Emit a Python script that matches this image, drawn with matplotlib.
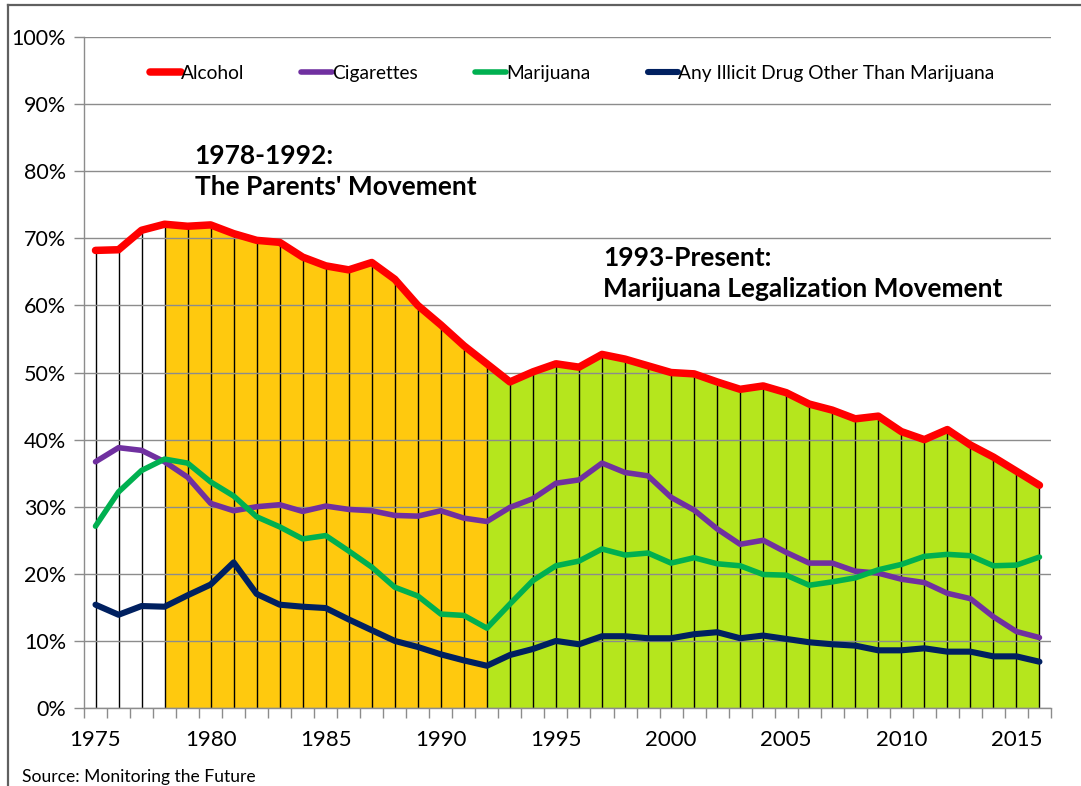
import numpy as np
import matplotlib
matplotlib.use("Agg")
import matplotlib.pyplot as plt
from matplotlib.lines import Line2D
from matplotlib.ticker import FixedLocator, FuncFormatter

plt.rcParams['font.family'] = ['Lato', 'DejaVu Sans']

# data (12th grade, past 30 days)
years = list(range(1975, 2017))
alcohol = [68.2, 68.3, 71.2, 72.1, 71.8, 72.0, 70.7, 69.7, 69.4, 67.2,
           65.9, 65.3, 66.4, 63.9, 60.0, 57.1, 54.0, 51.3, 48.6, 50.1,
           51.3, 50.8, 52.7, 52.0, 51.0, 50.0, 49.8, 48.6, 47.5, 48.0,
           47.0, 45.3, 44.4, 43.1, 43.5, 41.2, 40.0, 41.5, 39.2, 37.4,
           35.3, 33.2]
cigarettes = [36.7, 38.8, 38.4, 36.7, 34.4, 30.5, 29.4, 30.0, 30.3, 29.3,
              30.1, 29.6, 29.4, 28.7, 28.6, 29.4, 28.3, 27.8, 29.9, 31.2,
              33.5, 34.0, 36.5, 35.1, 34.6, 31.4, 29.5, 26.7, 24.4, 25.0,
              23.2, 21.6, 21.6, 20.4, 20.1, 19.2, 18.7, 17.1, 16.3, 13.6,
              11.4, 10.5]
marijuana = [27.1, 32.2, 35.4, 37.1, 36.5, 33.7, 31.6, 28.5, 27.0, 25.2,
             25.7, 23.4, 21.0, 18.0, 16.7, 14.0, 13.8, 11.9, 15.5, 19.0,
             21.2, 21.9, 23.7, 22.8, 23.1, 21.6, 22.4, 21.5, 21.2, 19.9,
             19.8, 18.3, 18.8, 19.4, 20.6, 21.4, 22.6, 22.9, 22.7, 21.2,
             21.3, 22.5]
other_drugs = [15.4, 13.9, 15.2, 15.1, 16.8, 18.4, 21.7, 17.0, 15.4, 15.1,
               14.9, 13.2, 11.6, 10.0, 9.1, 8.0, 7.1, 6.3, 7.9, 8.8,
               10.0, 9.5, 10.7, 10.7, 10.4, 10.4, 11.0, 11.3, 10.4, 10.8,
               10.3, 9.8, 9.5, 9.3, 8.6, 8.6, 8.9, 8.4, 8.4, 7.7,
               7.7, 6.9]

parents_era = (1978, 1992)
legal_era = (1992, 2016)

x = np.array(years)
alc = np.array(alcohol)

fig = plt.figure(figsize=(10.81, 7.86), dpi=100)
ax = fig.add_axes([0.0777, 0.0992, 0.8945, 0.8537])

# shaded movements under the alcohol line
m1 = (x >= parents_era[0]) & (x <= parents_era[1])
ax.fill_between(x[m1], 0, alc[m1], color='#FFC90E', lw=0, zorder=0.5)
m2 = (x >= legal_era[0]) & (x <= legal_era[1])
ax.fill_between(x[m2], 0, alc[m2], color='#B5E61D', lw=0, zorder=0.5)

# drop lines
ax.vlines(x, 0, alc, colors='black', lw=1.0, zorder=2)

ax.plot(x, alcohol, color='#FF0000', lw=5.4, label='Alcohol', zorder=6,
        solid_capstyle='round', solid_joinstyle='round')
ax.plot(x, cigarettes, color='#7030A0', lw=4.0, label='Cigarettes', zorder=5,
        solid_capstyle='round', solid_joinstyle='round')
ax.plot(x, marijuana, color='#00B050', lw=4.0, label='Marijuana', zorder=5,
        solid_capstyle='round', solid_joinstyle='round')
ax.plot(x, other_drugs, color='#002060', lw=4.4,
        label='Any Illicit Drug Other Than Marijuana', zorder=5,
        solid_capstyle='round', solid_joinstyle='round')

ax.set_xlim(1974.5, 2016.5)
ax.set_ylim(0, 100)

grid_c = '#8C8C8C'
ax.set_yticks(np.arange(0, 101, 10))
ax.yaxis.set_major_formatter(FuncFormatter(lambda v, p: f'{int(v)}%'))
ax.yaxis.grid(True, color=grid_c, lw=1.0, zorder=1)
ax.set_axisbelow(False)
for gl in ax.get_ygridlines():
    gl.set_zorder(1)

ax.xaxis.set_major_locator(FixedLocator(np.arange(1974.5, 2017, 1)))
ax.xaxis.set_major_formatter(FuncFormatter(lambda v, p: ''))
ax.xaxis.set_minor_locator(FixedLocator(np.arange(1975, 2016, 5)))
ax.xaxis.set_minor_formatter(FuncFormatter(lambda v, p: f'{int(v)}'))
ax.tick_params(axis='x', which='major', length=7, width=1, color=grid_c, direction='out')
ax.tick_params(axis='x', which='minor', length=0, pad=16, labelsize=16, labelcolor='black')
ax.tick_params(axis='y', length=7, width=1, color=grid_c, labelsize=15.5, pad=6)

for s in ['top', 'right']:
    ax.spines[s].set_visible(False)
for s in ['left', 'bottom']:
    ax.spines[s].set_color(grid_c)
    ax.spines[s].set_linewidth(1.0)
    ax.spines[s].set_zorder(7)

leg = ax.legend(loc='center', bbox_to_anchor=(0.505, 0.946), ncol=4,
                frameon=False, fontsize=13.8, handlelength=1.6,
                handletextpad=0.0, columnspacing=3.0)

ax.text(1979.3, 80.0, "1978-1992:\nThe Parents' Movement", fontsize=19,
        fontweight='bold', va='center', ha='left', linespacing=1.35, zorder=8)
ax.text(1997.05, 64.75, "1993-Present:\nMarijuana Legalization Movement", fontsize=19,
        fontweight='bold', va='center', ha='left', linespacing=1.35, zorder=8)

fig.text(22 / 1081, 1 - 777 / 786, 'Source: Monitoring the Future', fontsize=12.6,
         va='center', ha='left')

# outer frame (top and left only)
fig.add_artist(Line2D([8 / 1081, 1.0], [1 - 5 / 786, 1 - 5 / 786], color='#606060',
                      lw=1.6, transform=fig.transFigure))
fig.add_artist(Line2D([8 / 1081, 8 / 1081], [0.0, 1 - 5 / 786], color='#606060',
                      lw=1.6, transform=fig.transFigure))

fig.savefig('out.png', dpi=100)
